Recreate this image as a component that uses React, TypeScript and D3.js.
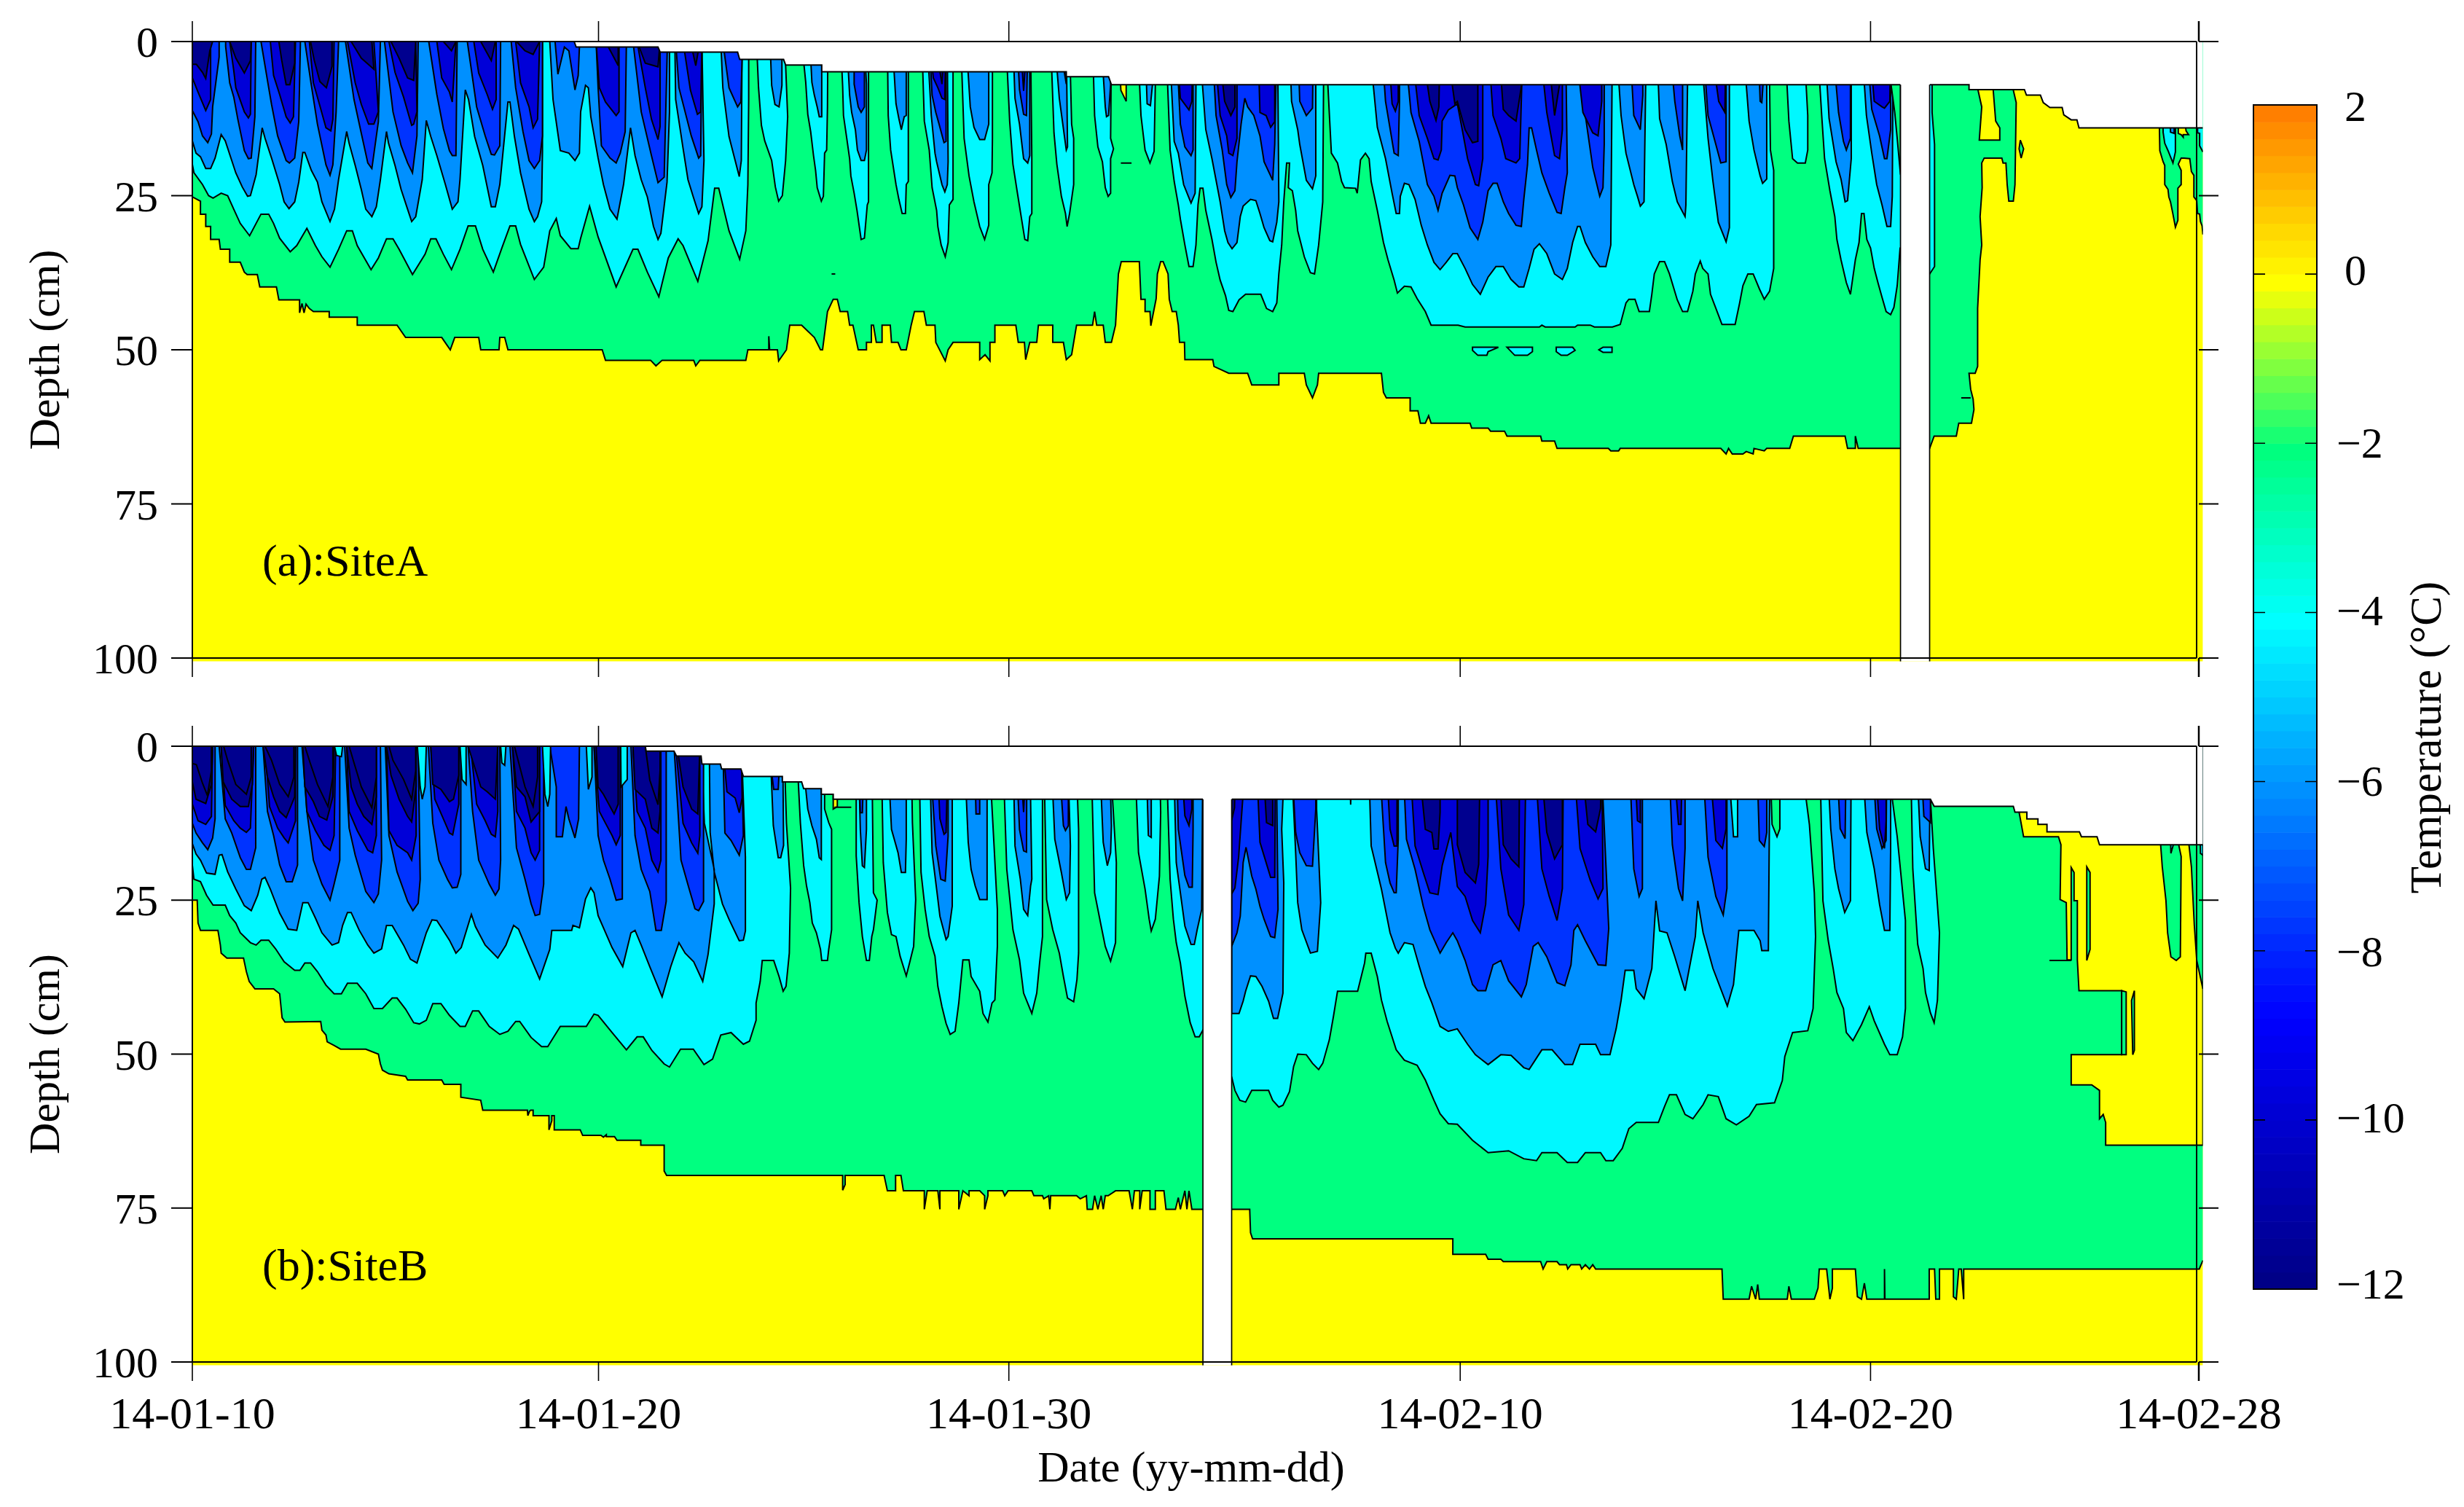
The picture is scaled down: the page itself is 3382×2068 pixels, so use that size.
import React from "react";
import * as d3 from "d3";

type Pt = number[];

// dates on the axis, as days after 14-01-10
const dateTicks = [0, 10, 20, 31, 41, 49];
const dateLabels = ["14-01-10", "14-01-20", "14-01-30", "14-02-10", "14-02-20", "14-02-28"];
const depthTicks = [0, 25, 50, 75, 100];
const tempTicks = [2, 0, -2, -4, -6, -8, -10, -12];
const tempLabels = ["2", "0", "\u22122", "\u22124", "\u22126", "\u22128", "\u221210", "\u221212"];

// colours of the filled bands, warm to cold
const bandColors = { g0: "#00ff80", g2: "#00f8ff", g4: "#0090ff", g6: "#0033ff", g8: "#0000d8", g10: "#00008f", warm: "#ffff00" };
const colorStops = [2, 0, -2, -4, -6, -8, -8.7, -12];
const colorValues = ["#ff7f00", "#ffff00", "#00ff7f", "#00ffff", "#0090ff", "#0020ff", "#0000ff", "#00007f"];

// site A: top of the record (day, cm)
const surfaceA: Pt[] = [[0,0],[9.4,0],[9.45,.9],[11.45,.9],[11.5,1.7],[13.39,1.7],[13.44,2.9],[14.51,2.9],[14.56,3.8],[15.44,3.8],[15.44,4.9],[21.4,4.9],[21.4,5.7],[22.43,5.7],[22.5,7],[43.4,7],[43.4,7.8],[44.75,7.8],[44.8,8.7],[45.14,8.7],[45.21,9.9],[45.37,10.7],[45.67,10.7],[45.71,11.9],[45.89,12.7],[46.03,12.7],[46.08,14],[49.1,14]];
const gapA = [41.73, 42.44];

// site A: depth of each isotherm (day, cm). 0 means the band is absent at that time
const iso0A: Pt[] = [[0,25.2],[.2,25.9],[.2,28],[.33,28],[.33,30],[.45,30],[.45,32.1],[.66,32.1],[.69,33.7],[.92,33.7],[.92,35.8],[1.18,35.8],[1.28,37.4],[1.35,37.8],[1.6,37.8],[1.66,39.8],[2.07,39.8],[2.13,41.9],[2.64,41.9],[2.64,44],[2.7,42.5],[2.75,44],[2.8,42.6],[2.88,43.3],[2.98,43.8],[3.37,43.8],[3.37,44.7],[4.06,44.7],[4.06,46],[5.04,46],[5.25,48],[6.14,48],[6.35,50],[6.46,48],[7.05,48],[7.1,50],[7.55,50],[7.57,48],[7.69,48],[7.77,50],[10.09,50],[10.17,51.7],[11.27,51.7],[11.4,52.6],[11.55,51.7],[12.32,51.7],[12.37,52.6],[12.47,51.7],[13.59,51.7],[13.64,50],[14.15,50],[14.15,47.8],[14.17,50],[14.36,50],[14.39,51.8],[14.58,50],[14.66,46],[14.95,46],[15.26,48],[15.41,50],[15.46,50],[15.58,43.8],[15.72,41.8],[15.82,41.8],[15.89,43.8],[16.07,43.8],[16.12,46],[16.2,46],[16.33,50],[16.53,50],[16.53,48.8],[16.65,48.8],[16.65,46],[16.7,46],[16.77,48.8],[16.91,48.8],[16.91,46],[17.11,46],[17.14,48.8],[17.3,48.8],[17.37,50],[17.5,50],[17.62,46],[17.7,43.8],[17.93,43.8],[17.99,46],[18.2,46],[18.22,48.8],[18.45,51.8],[18.52,50],[18.64,48.8],[19.29,48.8],[19.29,51.6],[19.42,50.8],[19.54,51.8],[19.54,48.8],[19.66,48.8],[19.66,46],[20.17,46],[20.23,48.8],[20.38,48.8],[20.41,51.6],[20.51,48.8],[20.68,48.8],[20.72,46],[21.07,46],[21.07,48.8],[21.33,48.8],[21.4,51.6],[21.53,50.8],[21.65,46],[22.04,46],[22.09,43.8],[22.14,46],[22.3,46],[22.35,48.8],[22.5,48.8],[22.6,46],[22.67,37.7],[22.74,35.7],[23.18,35.7],[23.22,41.8],[23.32,41.8],[23.32,43.8],[23.44,43.8],[23.46,46.1],[23.59,41.7],[23.62,37.7],[23.7,35.7],[23.76,35.7],[23.88,37.7],[23.91,41.8],[23.98,43.8],[24.08,43.8],[24.13,46],[24.16,48.8],[24.28,48.8],[24.29,51.6],[24.97,51.6],[25,52.7],[25.36,53.8],[25.82,53.8],[25.92,55.7],[26.58,55.7],[26.58,53.8],[27.2,53.8],[27.25,55.7],[27.4,57.8],[27.52,55.7],[27.55,53.8],[29.08,53.8],[29.13,56.9],[29.2,57.8],[29.78,57.8],[29.78,59.9],[29.97,59.9],[30.03,61.9],[30.15,61.9],[30.23,60.7],[30.29,61.9],[31.24,61.9],[31.28,62.7],[31.68,62.7],[31.74,63.2],[32.08,63.2],[32.14,64],[32.96,64],[32.99,64.8],[33.3,64.8],[33.36,66],[34.61,66],[34.67,66.4],[34.86,66.4],[34.9,66],[37.35,66],[37.48,66.9],[37.54,66],[37.63,66.9],[37.89,66.9],[37.97,66.5],[38.14,66.9],[38.16,66],[38.41,66.4],[38.47,66],[39.03,66],[39.12,64],[40.38,64],[40.44,66],[40.63,66],[40.63,64],[40.7,66],[42.44,66],[42.55,64],[43.09,64],[43.15,61.9],[43.46,61.9],[43.52,59.7],[43.5,58],[43.44,56.4],[43.4,53.8],[43.55,53.8],[43.61,52.7],[43.61,43.3],[43.67,35.4],[43.71,33],[43.67,28.4],[43.72,23.7],[43.71,19.7],[43.77,18.9],[44.2,18.9],[44.23,19.7],[44.3,19.7],[44.33,23.2],[44.37,25.9],[44.48,25.9],[44.52,23.2],[44.55,9.9],[44.48,7.9],[44.48,0],[48.04,0],[48.04,14],[48.05,17.7],[48.13,19.5],[48.17,20.1],[48.17,23.2],[48.25,24],[48.27,25.2],[48.31,26],[48.37,28],[48.43,30.1],[48.49,29],[48.49,23.8],[48.57,23.2],[48.57,20.9],[48.5,19.9],[48.57,18.9],[48.64,18.9],[48.78,19],[48.82,21.1],[48.88,21.7],[48.88,25.2],[48.95,25.8],[48.97,27.9],[49.02,28],[49.04,29.2],[49.08,29.9],[49.1,31.3]];
const iso2A: Pt[] = [[0,19.9],[.04,21.3],[.25,23.2],[.4,25],[.51,25.4],[.71,24.6],[.87,25],[1.02,27.2],[1.18,29.5],[1.41,31.5],[1.69,28],[1.88,28],[2,29.5],[2.15,31.9],[2.41,34.1],[2.57,33.1],[2.82,30.3],[3.03,33.1],[3.19,34.9],[3.39,36.6],[3.6,33.7],[3.8,30.7],[3.94,30.7],[4.06,33.1],[4.4,37],[4.58,35.1],[4.78,32],[4.94,32],[5.09,33.7],[5.42,37.8],[5.73,34.5],[5.87,32],[6,32],[6.18,34.5],[6.38,37],[6.59,33.7],[6.79,29.9],[6.97,29.9],[7.15,33.7],[7.41,37.4],[7.62,33.5],[7.82,29.9],[7.96,29.9],[8.08,32.9],[8.42,38.6],[8.65,36.6],[8.8,30.7],[8.96,28.7],[9.06,31.5],[9.32,33.6],[9.5,33.6],[9.56,31.9],[9.78,26.7],[9.99,31.7],[10.43,39.8],[10.84,33.7],[10.96,33.7],[11.19,37.4],[11.47,41.4],[11.7,35.1],[11.94,32],[12.06,33.1],[12.42,38.9],[12.67,32.3],[12.83,23.8],[12.93,23.8],[13.18,30.7],[13.44,35.3],[13.59,30.7],[13.64,23.2],[13.66,9.4],[13.66,0],[13.85,0],[13.9,7.5],[13.97,13.6],[14.05,16.1],[14.22,19.3],[14.31,23.6],[14.39,25.9],[14.48,25],[14.56,19.3],[14.61,12.2],[14.56,3.8],[14.56,0],[14.95,0],[15.05,6.6],[15.1,11.8],[15.17,14.6],[15.24,18.5],[15.29,20.9],[15.33,23.7],[15.43,25.9],[15.48,25.1],[15.51,18.1],[15.56,17.6],[15.58,10.6],[15.59,0],[15.9,0],[15.95,7.3],[15.97,12],[16.05,15.7],[16.12,19],[16.15,21.8],[16.23,24.6],[16.3,27.4],[16.4,32.1],[16.48,31.9],[16.55,26.5],[16.58,26],[16.58,0],[17.04,0],[17.06,12],[17.12,17.6],[17.25,23.2],[17.32,25.6],[17.4,27.9],[17.48,27.9],[17.5,23.2],[17.55,22.7],[17.55,0],[17.88,0],[17.94,12.9],[18.06,17.6],[18.13,23.7],[18.24,27.4],[18.27,30],[18.35,33],[18.45,34.9],[18.52,32.6],[18.55,26.5],[18.64,25.6],[18.64,0],[18.83,0],[18.91,15.7],[19.03,21.8],[19.15,26],[19.29,30],[19.41,32.1],[19.51,29.8],[19.51,23.2],[19.59,21.3],[19.6,15.7],[19.6,0],[19.93,0],[20.02,12.9],[20.1,19.9],[20.2,24.2],[20.31,28.8],[20.39,32.1],[20.46,32.3],[20.51,28.4],[20.56,27.9],[20.56,19],[20.53,0],[21.02,0],[21.1,14.8],[21.17,19.9],[21.28,25.1],[21.38,27.9],[21.42,30],[21.48,27.9],[21.58,23.2],[21.58,15.7],[21.53,13.4],[21.48,0],[22.04,0],[22.09,12],[22.17,17.1],[22.28,19.5],[22.35,23.7],[22.42,25.1],[22.48,24.6],[22.48,19],[22.55,17.4],[22.48,15.7],[22.5,0],[23.14,0],[23.22,12],[23.32,17.6],[23.44,19.7],[23.54,17.8],[23.57,7],[23.57,0],[23.83,0],[23.93,17.6],[24.03,22.7],[24.13,26.5],[24.18,28.8],[24.29,33],[24.39,36.5],[24.49,36.5],[24.56,33],[24.61,26.5],[24.66,23.8],[24.73,23.8],[24.8,27.4],[24.95,32.1],[25.05,35.8],[25.15,38.7],[25.28,41.2],[25.36,43.6],[25.46,43.8],[25.61,41.9],[25.77,41],[26.14,41],[26.28,43.3],[26.43,43.8],[26.53,42.4],[26.58,37.7],[26.65,33],[26.7,26],[26.77,19.7],[26.84,19.7],[26.81,23.7],[26.91,24.2],[26.99,27.4],[27.04,30.7],[27.2,34.9],[27.35,37.5],[27.45,37.7],[27.55,33],[27.65,26],[27.67,7],[27.67,0],[27.72,0],[27.86,18.1],[28.01,19.7],[28.11,22.7],[28.18,23.7],[28.45,23.8],[28.49,24.6],[28.57,19.2],[28.69,18.1],[28.78,19],[28.83,22.7],[28.98,27.4],[29.13,32.6],[29.24,35.4],[29.39,38.7],[29.47,40.8],[29.64,39.7],[29.8,39.8],[29.95,41.7],[30.15,43.8],[30.29,46],[30.95,46],[31.12,46.3],[32.93,46.3],[32.99,46],[33.07,46.3],[33.8,46.3],[33.86,46],[34.17,46],[34.27,46.3],[34.71,46.3],[34.9,45.9],[35.04,42.4],[35.11,41.8],[35.26,41.8],[35.36,43.8],[35.61,43.8],[35.67,41],[35.73,37.7],[35.86,35.7],[35.98,35.7],[36.1,37.7],[36.29,41.9],[36.42,43.8],[36.54,43.8],[36.67,40.5],[36.73,37.7],[36.85,35.6],[36.91,36.8],[37.04,37.7],[37.1,41],[37.29,44.3],[37.38,45.9],[37.7,45.9],[37.81,42.4],[37.89,39.6],[38.01,37.7],[38.14,37.7],[38.29,40.1],[38.41,41.8],[38.54,40.5],[38.64,36.8],[38.64,20.9],[38.56,17.6],[38.54,7],[38.54,0],[38.91,0],[39.01,12.9],[39.1,19],[39.22,19.7],[39.41,19.7],[39.47,17.6],[39.47,12],[39.43,7],[39.43,0],[39.7,0],[39.81,12],[39.88,19],[40.01,24.2],[40.13,28.4],[40.18,32.1],[40.28,35.4],[40.41,39.1],[40.51,41],[40.63,35.4],[40.72,32.6],[40.78,27.9],[40.84,27.9],[40.91,32.1],[41,33.5],[41.09,36.8],[41.18,39.1],[41.28,41.5],[41.38,43.8],[41.49,44.3],[41.57,43.1],[41.65,39.6],[41.72,33.5],[41.74,33.5],[42.44,37.7],[42.56,36.5],[42.56,16.7],[42.5,11.5],[42.5,0],[48.11,0],[48.13,14.7],[48.17,16.5],[48.25,17.7],[48.31,18.7],[48.37,19.7],[48.43,17.9],[48.43,0],[48.97,0],[48.97,14.8],[49.02,14.9],[49.02,16.9],[49.1,17.9]];
const iso4A: Pt[] = [[0,16.1],[.09,18.1],[.2,18.7],[.33,20.6],[.45,20.6],[.56,18.9],[.71,15.1],[.81,16.1],[.97,19.3],[1.07,21.3],[1.23,23.6],[1.36,25.1],[1.43,25],[1.57,21.6],[1.72,14],[1.79,15.7],[1.95,18.9],[2.15,23.2],[2.26,26],[2.38,27.1],[2.52,26],[2.62,22.8],[2.72,18],[2.77,18],[2.93,20.9],[3.08,22.8],[3.19,26],[3.39,29.2],[3.5,27.2],[3.6,22.4],[3.8,14.6],[3.86,16.5],[4.01,20.1],[4.16,24],[4.27,27.2],[4.42,28.4],[4.53,26.8],[4.63,22.4],[4.78,14.6],[4.83,16.5],[4.99,20.1],[5.14,24],[5.3,27.2],[5.4,29.2],[5.5,28.4],[5.66,22.4],[5.76,12.8],[5.87,15.4],[6.02,18.5],[6.23,23.2],[6.4,27.2],[6.54,26],[6.59,22.4],[6.72,7.85],[6.8,9.4],[6.95,15.4],[7.15,20.1],[7.36,26.8],[7.46,26.8],[7.57,23.2],[7.77,9.8],[7.82,9.8],[7.93,15.4],[8.08,21.3],[8.29,27.2],[8.42,29.2],[8.5,28.4],[8.6,26],[8.62,18],[8.62,0],[8.8,0],[8.88,9.4],[9.06,17.7],[9.27,18.1],[9.42,19.3],[9.53,18.1],[9.56,11.4],[9.68,7.1],[9.75,7.5],[9.81,12.2],[9.99,18.9],[10.12,23.2],[10.28,27.2],[10.45,28.8],[10.61,23.2],[10.78,14],[10.89,18.5],[11.04,22.4],[11.19,25.2],[11.34,30],[11.45,32.1],[11.52,31.1],[11.67,22.8],[11.73,11.4],[11.73,0],[11.86,0],[11.88,9.4],[12.06,17.3],[12.18,22.4],[12.31,25.2],[12.44,27.9],[12.52,26.8],[12.57,19.3],[12.52,0],[12.98,0],[13.03,7.5],[13.18,15.4],[13.33,19.3],[13.43,21.9],[13.48,19.3],[13.5,0],[14.18,0],[14.22,7.1],[14.3,10.2],[14.4,10.6],[14.47,7.1],[14.47,0],[15.15,0],[15.2,6.6],[15.26,8.7],[15.33,10.6],[15.38,12.2],[15.44,12.2],[15.44,0],[16.05,0],[16.12,8.7],[16.17,11.5],[16.26,14.3],[16.31,17.6],[16.4,19.3],[16.48,19.3],[16.53,17.6],[16.53,6.9],[16.48,0],[17.16,0],[17.25,10.1],[17.32,12.5],[17.38,14.3],[17.45,12.2],[17.5,12],[17.5,0],[18.01,0],[18.11,12],[18.2,18.1],[18.24,19.5],[18.37,23.2],[18.44,24.4],[18.5,23.2],[18.52,19.5],[18.5,0],[18.96,0],[19.06,10.6],[19.15,13.9],[19.29,15.9],[19.41,15.9],[19.51,13.4],[19.51,0],[20.1,0],[20.15,9.2],[20.26,13.4],[20.36,19],[20.46,19.7],[20.51,18.5],[20.51,0],[21.12,0],[21.23,9.2],[21.4,17.6],[21.43,17.1],[21.4,0],[22.25,0],[22.35,10.6],[22.38,12.2],[22.43,12],[22.48,7],[22.48,0],[23.32,0],[23.37,10.1],[23.45,10.4],[23.5,7],[23.5,0],[23.91,0],[24.03,16.2],[24.13,18.1],[24.26,23.2],[24.44,26.2],[24.54,24.6],[24.56,7],[24.56,0],[24.64,0],[24.8,14.3],[24.95,19],[25.15,26],[25.26,30.7],[25.34,32.6],[25.44,33.6],[25.56,32.6],[25.64,28.4],[25.71,26.7],[25.89,25.6],[26.02,25.8],[26.12,27.9],[26.22,30.2],[26.36,32.3],[26.43,32.5],[26.53,29.3],[26.58,26],[26.55,0],[26.84,0],[26.89,9.7],[27.04,14.3],[27.09,16.7],[27.25,22.5],[27.4,23.9],[27.48,21.8],[27.48,0],[28.78,0],[28.98,13.9],[29.18,19],[29.34,24.6],[29.44,27.9],[29.52,27.9],[29.54,25.1],[29.64,23],[29.75,23.2],[29.9,25.6],[30.05,29.8],[30.2,33],[30.36,35.8],[30.51,37],[30.66,35.8],[30.82,34.4],[30.93,34.4],[31.12,36.8],[31.3,39.4],[31.49,41],[31.68,38.2],[31.87,36.5],[32.05,36.5],[32.24,38.6],[32.43,39.8],[32.55,39.8],[32.68,36.8],[32.8,33.7],[32.93,32.8],[33.11,34.4],[33.3,37.7],[33.49,38.6],[33.61,36.8],[33.74,32.6],[33.86,30],[33.92,30],[34.05,32.6],[34.23,34.9],[34.4,36.5],[34.55,36.5],[34.67,33],[34.7,7],[34.7,0],[34.8,0],[34.92,12],[35.04,18.1],[35.23,23.2],[35.32,25.1],[35.39,26.7],[35.48,26],[35.52,7],[35.52,0],[35.79,0],[35.86,12.5],[36.02,16.7],[36.17,22.7],[36.29,26],[36.48,28.4],[36.5,26.5],[36.54,7],[36.54,0],[36.85,0],[37.04,15.7],[37.16,22.7],[37.29,29.3],[37.48,32.5],[37.56,30.2],[37.56,7],[37.56,0],[37.89,0],[38.04,12.9],[38.16,17.6],[38.31,21.8],[38.37,23],[38.47,22.3],[38.47,0],[39.88,0],[39.99,12.5],[40.16,19.5],[40.28,22.3],[40.38,26],[40.44,25.8],[40.53,19],[40.53,0],[40.78,0],[40.9,12],[41.03,18.1],[41.15,23.2],[41.28,26.5],[41.4,30],[41.49,30],[41.53,25.1],[41.55,0],[48.28,0],[48.31,14.7],[48.4,14.9],[48.4,0]];
const iso6A: Pt[] = [[0,11.2],[.14,13],[.25,15.3],[.38,16.4],[.47,15],[.5,10.6],[.66,2.5],[.66,0],[.82,0],[.82,.8],[.92,6.7],[1.02,9],[1.12,12.6],[1.28,17.7],[1.38,19],[1.45,18.9],[1.54,12.2],[1.56,0],[1.69,0],[1.87,7.1],[1.95,10.2],[2.1,15.3],[2.31,19.3],[2.39,19.7],[2.52,18.9],[2.62,13],[2.66,.4],[2.66,0],[2.77,0],[2.93,7.1],[3.08,13.4],[3.29,20],[3.39,21.7],[3.46,20],[3.54,11.4],[3.6,0],[3.77,0],[3.98,9.4],[4.16,14.9],[4.32,19.7],[4.42,20.6],[4.58,13],[4.63,0],[4.73,0],[4.94,11.4],[5.14,16.9],[5.3,19.7],[5.42,21.3],[5.53,15.3],[5.56,0],[5.82,0],[6.02,8.6],[6.18,14.1],[6.33,17.7],[6.4,18.5],[6.49,18.5],[6.52,0],[6.77,0],[7,10.6],[7.21,15.3],[7.36,18.3],[7.44,18.4],[7.57,16.9],[7.59,0],[7.85,0],[7.96,7.5],[8.14,14.6],[8.29,19.3],[8.42,20.6],[8.55,19.3],[8.62,15.3],[8.62,0],[8.93,0],[9,5.3],[9.16,.9],[9.27,1.5],[9.42,7.85],[9.5,5.5],[9.53,.9],[9.53,0],[9.94,0],[9.99,7.5],[10.07,16.9],[10.28,18.9],[10.43,19.7],[10.53,18.1],[10.65,14.6],[10.68,0],[10.84,0],[11.04,11.4],[11.29,18.5],[11.45,22.9],[11.6,22],[11.68,0],[11.88,0],[11.96,7.5],[12.26,15.3],[12.44,18.9],[12.49,18.5],[12.52,0],[13.03,0],[13.18,7.5],[13.39,10.6],[13.47,9.8],[13.51,0],[16.23,0],[16.23,6.9],[16.33,10.6],[16.4,11.5],[16.48,10.6],[16.48,0],[18.06,0],[18.13,8.7],[18.22,11.5],[18.3,13.4],[18.42,16.4],[18.47,16.2],[18.47,0],[20.2,0],[20.26,7.8],[20.36,11.8],[20.43,12],[20.46,0],[21.23,0],[21.4,6.9],[21.4,0],[24.08,0],[24.18,13.4],[24.29,17.1],[24.44,18.5],[24.49,17.6],[24.49,0],[24.95,0],[25.05,12],[25.2,17.6],[25.31,23.2],[25.41,25.3],[25.51,24.2],[25.56,19.5],[25.66,13.4],[25.75,9.2],[25.82,10.6],[25.97,12],[26.12,15.3],[26.22,19.5],[26.43,22.5],[26.48,16.7],[26.53,0],[27.04,0],[27.09,9.7],[27.25,12],[27.4,10.8],[27.42,0],[29.08,0],[29.18,9.7],[29.39,18.1],[29.49,18.5],[29.52,9.7],[29.52,0],[29.64,0],[29.8,11.5],[30,16.2],[30.2,23.2],[30.36,25.1],[30.46,27.4],[30.56,24.6],[30.75,21.7],[30.87,21.8],[30.93,23.7],[31.08,26.5],[31.24,30.2],[31.43,32.1],[31.55,29.3],[31.68,24.2],[31.8,23],[31.9,23],[32.05,26],[32.18,27.9],[32.36,29.8],[32.49,30],[32.55,25.6],[32.64,20],[32.68,14],[32.74,14],[32.86,17.6],[32.99,21.3],[33.17,24.6],[33.36,27.7],[33.46,27.9],[33.55,23.7],[33.61,21.3],[33.57,0],[33.8,0],[34.05,12],[34.23,20.4],[34.4,25.1],[34.48,23.7],[34.51,16.7],[34.51,0],[35.13,0],[35.23,12],[35.39,14.3],[35.45,8.7],[35.45,0],[36.1,0],[36.23,9.7],[36.35,15.3],[36.42,17.6],[36.42,0],[36.91,0],[37.04,12],[37.23,16.7],[37.35,19.7],[37.48,19.5],[37.48,0],[38.26,0],[38.31,9.7],[38.35,9.9],[38.45,0],[40.07,0],[40.22,11.5],[40.34,16.2],[40.41,17.6],[40.51,15.7],[40.51,0],[40.9,0],[41.03,11],[41.22,15.3],[41.34,19],[41.4,19],[41.49,14.3],[41.49,0]];
const iso8A: Pt[] = [[0,5.9],[.14,8.2],[.33,11.2],[.45,9.4],[.45,0],[.92,0],[1.02,4.7],[1.07,7.5],[1.28,11.4],[1.38,12.4],[1.43,11.8],[1.45,0],[1.92,0],[2,5.5],[2.15,8.6],[2.31,12.2],[2.41,13.2],[2.49,12.2],[2.54,0],[2.88,0],[2.98,6.7],[3.13,10.2],[3.29,14],[3.41,14.5],[3.46,12.6],[3.49,0],[3.82,0],[4.01,6.7],[4.16,10.2],[4.34,13.4],[4.47,13.4],[4.58,11.4],[4.47,0],[4.84,0],[4.99,5],[5.2,9],[5.4,13.6],[5.45,13.4],[5.53,11.4],[5.5,0],[6.02,0],[6.14,5.9],[6.33,8.2],[6.4,9.8],[6.49,0],[6.93,0],[7.05,5.1],[7.26,8.6],[7.39,11],[7.48,9.4],[7.48,0],[7.96,0],[8.08,6.7],[8.29,10.6],[8.39,14],[8.5,12.6],[8.55,0],[9.94,0],[10.02,7.5],[10.17,9.8],[10.43,12],[10.5,11.4],[10.5,0],[10.94,0],[11.14,7.5],[11.29,12.6],[11.45,15.9],[11.5,13.8],[11.5,0],[12.06,0],[12.24,7.9],[12.41,11.8],[12.49,11.4],[12.52,0],[18.06,0],[18.16,5.9],[18.27,7.5],[18.37,9.2],[18.44,9.4],[18.46,0],[20.28,0],[20.36,8],[20.44,0],[24.08,0],[24.18,9.2],[24.39,11.1],[24.46,9.7],[24.49,0],[25,0],[25.15,12],[25.31,15.3],[25.36,18.1],[25.46,18.5],[25.56,15.7],[25.56,0],[26.07,0],[26.12,11.5],[26.27,12],[26.38,13.9],[26.48,13],[26.48,0],[29.24,0],[29.34,10.1],[29.42,11.3],[29.49,9.7],[29.49,0],[29.8,0],[30,12],[30.2,15.7],[30.36,19],[30.46,19.2],[30.54,17.6],[30.56,12.9],[30.71,11.1],[30.93,10.1],[31.05,14.3],[31.18,19],[31.37,23.2],[31.45,23.4],[31.55,19],[31.55,0],[31.68,0],[31.8,12],[31.99,15.7],[32.11,19],[32.36,19.7],[32.45,19],[32.53,0],[32.93,0],[33.11,11.5],[33.3,18.5],[33.42,19],[33.49,14.3],[33.49,0],[33.8,0],[33.99,11.5],[34.23,14.8],[34.36,15.3],[34.45,9.7],[34.45,0],[37.1,0],[37.3,9.7],[37.45,11.5],[37.48,0],[40.97,0],[41.09,9.7],[41.28,10.6],[41.34,10.8],[41.47,9.7],[41.49,0]];
const iso10A: Pt[] = [[0,3.7],[.1,3.7],[.25,5],[.33,6],[.43,1.5],[.5,0],[.92,0],[1.07,2.7],[1.28,5.1],[1.43,3.1],[1.45,0],[2.13,0],[2.2,3],[2.31,7],[2.4,7],[2.52,3.5],[2.52,0],[2.91,0],[3,3],[3.14,6.5],[3.3,7.5],[3.44,4],[3.44,0],[3.91,0],[4.16,2.7],[4.47,4.5],[4.42,0],[4.89,0],[5.09,2.7],[5.3,5.9],[5.45,6.3],[5.5,0],[6.18,0],[6.38,1.5],[6.49,0],[7.1,0],[7.36,3.1],[7.46,0],[7.98,0],[8.19,1.5],[8.39,2.1],[8.55,0],[10.17,0],[10.48,3.9],[10.48,0],[10.94,0],[11.14,3.5],[11.45,4.1],[11.5,0],[12.24,0],[12.37,3.9],[12.47,0],[18.2,0],[18.37,6.9],[18.44,0],[25.1,0],[25.26,9.7],[25.41,12],[25.51,10.6],[25.51,0],[30.05,0],[30.26,9.7],[30.41,12.8],[30.48,10.6],[30.51,0],[30.66,0],[30.87,10.1],[30.93,9.7],[31.12,14.3],[31.3,16.4],[31.43,16.2],[31.43,0],[31.93,0],[32.05,11],[32.18,12],[32.36,12.9],[32.49,7.3],[32.49,0],[33.11,0],[33.3,12],[33.42,7],[33.42,0]];

// site A: closed pockets (band, day-cm outline) and short contour dashes
const pocketsA: [keyof typeof bandColors, Pt[]][] = [
  ["g2", [[31.3,49.6],[31.93,49.6],[31.68,50.3],[31.65,50.9],[31.43,50.9],[31.3,50.1]]],
  ["g2", [[32.14,49.6],[32.76,49.6],[32.76,50.3],[32.64,50.9],[32.33,50.9]]],
  ["g2", [[33.34,49.6],[33.74,49.6],[33.8,50.1],[33.61,50.9],[33.46,50.9],[33.34,50.3]]],
  ["g2", [[34.48,49.6],[34.7,49.6],[34.7,50.4],[34.48,50.4],[34.38,50]]],
  ["g0", [[41.5,0],[41.5,7],[41.59,11.5],[41.65,15.7],[41.73,21.6],[41.73,0]]],
  ["warm", [[43.62,0],[43.62,7.9],[43.71,10.6],[43.65,16],[44.15,16],[44.15,14],[44.05,12.9],[43.99,7.9],[43.99,0]]],
  ["g0", [[44.65,16],[44.73,17.4],[44.67,18.9],[44.62,17.4]]],
  ["warm", [[48.5,0],[48.5,14.9],[48.57,15.1],[48.62,15.5],[48.62,15.1],[48.75,15.1],[48.69,14.5],[48.68,14],[48.68,0]]],
  ["warm", [[22.67,0],[22.86,0],[22.86,9.7],[22.73,7.9]]],
];
const dashesA: Pt[][] = [[[22.73,19.7],[22.99,19.7]],[[15.68,37.7],[15.77,37.7]],[[43.21,57.8],[43.44,57.8]]];

// site B: top of the record
const surfaceB: Pt[] = [[0,0],[11.14,0],[11.16,.8],[11.84,.8],[11.9,1.6],[12.5,1.6],[12.52,2.9],[12.97,2.9],[13,3.7],[13.47,3.7],[13.53,4.9],[14.48,4.9],[14.48,5.8],[14.95,5.8],[15,6.9],[15.43,6.9],[15.43,7.8],[15.72,7.8],[15.72,8.6],[42.46,8.6],[42.55,9.75],[44.48,9.75],[44.52,10.7],[44.81,10.7],[44.81,11.8],[45.08,11.8],[45.08,12.7],[45.3,12.7],[45.3,13.9],[46.09,13.9],[46.14,14.7],[46.52,14.7],[46.58,16],[49.1,16]];
const gapB = [24.73, 25.43];

// site B: isotherm depths
const iso0B: Pt[] = [[0,25],[.12,25],[.14,28.7],[.2,29.9],[.63,29.9],[.69,32.3],[.71,33.6],[.85,34.4],[1.26,34.4],[1.33,36.6],[1.4,38.2],[1.54,39.4],[2,39.4],[2.15,40.2],[2.21,44.1],[2.28,44.8],[3.16,44.7],[3.19,46.1],[3.29,46.9],[3.32,48],[3.49,48.6],[3.65,49.2],[4.27,49.2],[4.58,50],[4.63,51.6],[4.68,52.6],[4.84,53.2],[5.25,53.6],[5.3,54.2],[6.14,54.2],[6.2,54.9],[6.61,54.9],[6.61,57],[7.1,57.5],[7.15,59.1],[8.25,59.1],[8.26,60],[8.3,59.3],[8.33,59.1],[8.39,59.1],[8.39,60],[8.78,60],[8.78,62.3],[8.85,60.8],[8.85,60],[8.91,60],[8.91,62.3],[9.55,62.3],[9.61,63.2],[10.06,63.2],[10.12,63.5],[10.19,63.1],[10.19,63.4],[10.39,63.4],[10.45,64],[11.03,64],[11.03,64.8],[11.6,64.8],[11.6,69],[11.66,69.7],[15.95,69.7],[15.95,72.1],[16.01,71.2],[16.01,69.7],[16.96,69.7],[17.04,72.2],[17.24,72.2],[17.24,69.7],[17.37,69.7],[17.43,72.2],[17.94,72.2],[17.94,75.2],[18.01,72.2],[18.27,72.2],[18.32,75.2],[18.32,72.2],[18.78,72.2],[18.78,75.2],[18.88,72.2],[19.03,73],[19.03,72.2],[19.29,72.2],[19.41,73],[19.41,75.2],[19.49,73],[19.49,72.2],[19.85,72.2],[19.9,73],[19.98,72.2],[20.56,72.2],[20.61,73],[20.82,73],[20.85,73.5],[20.97,73],[21,75.2],[21.02,73],[21.65,73],[21.74,73.5],[21.89,73],[21.91,75.2],[22.04,75.2],[22.09,73],[22.17,75.2],[22.25,73],[22.3,75.2],[22.35,73],[22.42,73],[22.6,72.2],[22.93,72.2],[23.01,75.2],[23.06,72.2],[23.19,72.2],[23.19,75.2],[23.25,72.2],[23.44,72.2],[23.44,75.2],[23.57,75.2],[23.57,72.2],[23.78,72.2],[23.83,75.2],[24.06,75.2],[24.13,73.3],[24.18,75.2],[24.29,72.2],[24.34,75.2],[24.39,72.2],[24.46,75.2],[25.87,75.2],[25.89,79],[25.94,80],[30.82,80],[30.82,82.5],[31.62,82.5],[31.68,83.3],[31.99,83.3],[32.05,83.7],[32.96,83.7],[33.02,84.9],[33.11,83.7],[33.36,83.7],[33.42,84.2],[33.59,84.2],[33.62,84.9],[33.7,84.2],[33.92,84.2],[33.96,84.9],[34.05,84.2],[34.15,84.9],[34.23,84.2],[34.3,84.9],[37.38,84.9],[37.41,89.8],[38.04,89.8],[38.1,87.7],[38.2,89.8],[38.25,87.4],[38.29,89.8],[38.97,89.8],[39.01,87.7],[39.07,89.8],[39.63,89.8],[39.72,88],[39.75,84.9],[39.93,84.9],[40.01,89.8],[40.07,88],[40.07,84.9],[40.63,84.9],[40.68,89.4],[40.78,89.8],[40.85,87.2],[40.91,89.8],[41.34,89.8],[41.34,84.9],[41.35,89.8],[42.43,89.8],[42.43,84.9],[42.56,84.9],[42.59,89.8],[42.68,89.8],[42.68,84.9],[43.02,84.9],[43.02,89.4],[43.09,89.8],[43.15,84.9],[43.21,84.9],[43.27,89.8],[43.27,84.9],[49.01,84.9],[49.1,83.5]];
const iso2B: Pt[] = [[0,19.3],[.04,21.6],[.2,22],[.35,24.2],[.51,25.8],[.81,25.8],[.92,27.5],[1.07,28.7],[1.18,30.3],[1.43,31.9],[1.57,32.3],[1.69,31.5],[1.88,31.5],[2.05,32.9],[2.26,35],[2.52,36.4],[2.65,36.4],[2.77,35.2],[2.91,35.2],[3.08,36.6],[3.29,38.8],[3.49,40.2],[3.67,40.2],[3.82,38.5],[4.06,38.5],[4.27,40.2],[4.47,42.6],[4.68,42.6],[4.92,40.9],[5.04,40.9],[5.25,42.7],[5.45,44.9],[5.59,45.1],[5.76,44.5],[5.92,41.8],[6.12,41.8],[6.33,43.7],[6.59,45.5],[6.72,45.5],[6.9,43],[7.05,43],[7.31,45.5],[7.57,46.8],[7.77,46.3],[7.96,44.7],[8.06,44.7],[8.34,47.3],[8.6,48.8],[8.75,48.8],[9.06,45.5],[9.7,45.5],[9.89,43.5],[9.99,43.7],[10.33,46.5],[10.68,49.3],[10.94,47.2],[11.09,47.2],[11.3,49.4],[11.6,51.6],[11.73,52.1],[12,49.2],[12.31,49.2],[12.57,51.7],[12.78,50.8],[12.98,46.9],[13.23,46.5],[13.53,48.4],[13.68,47.9],[13.84,44.5],[13.84,41.7],[13.94,38.2],[13.99,34.8],[14.27,34.8],[14.4,37.4],[14.5,39.8],[14.57,39],[14.65,33.6],[14.68,23],[14.58,12.5],[14.55,6],[14.55,0],[14.87,0],[14.87,6],[14.92,12.5],[15,19.4],[15.07,22.7],[15.15,25.4],[15.21,28.7],[15.31,30.3],[15.41,33],[15.44,34.8],[15.58,34.8],[15.61,33],[15.68,29.8],[15.68,13.5],[15.61,12.4],[15.51,10.2],[15.51,8],[15.51,0],[16.28,0],[16.28,17.8],[16.35,25.4],[16.43,30.9],[16.53,34.8],[16.6,34.8],[16.66,30.9],[16.7,29.8],[16.79,24.98],[16.7,23.8],[16.66,0],[16.89,0],[16.94,18.9],[17.04,27],[17.14,30.6],[17.25,30.9],[17.35,34.1],[17.5,37.3],[17.58,35.2],[17.68,32.5],[17.73,24.9],[17.65,12.4],[17.62,0],[17.81,0],[17.86,20.5],[17.96,26.5],[18.06,30.9],[18.2,34.1],[18.27,39],[18.37,42.3],[18.47,45],[18.57,46.8],[18.69,46.3],[18.78,41.7],[18.88,34.7],[19.03,34.7],[19.08,37.4],[19.29,39.8],[19.37,43.4],[19.49,44.8],[19.59,41.7],[19.66,41.2],[19.72,32.5],[19.72,26.5],[19.64,16.2],[19.51,0],[19.85,0],[19.95,20],[20.1,29.8],[20.26,34.7],[20.36,40.1],[20.56,43.4],[20.68,40.1],[20.75,35.2],[20.82,30.9],[20.82,0],[20.85,0],[20.92,24.9],[21.07,29.8],[21.23,33.6],[21.33,37.4],[21.43,40.9],[21.58,41.5],[21.66,37.9],[21.7,33.6],[21.7,13.5],[21.63,0],[22,0],[22.09,23.8],[22.25,29.2],[22.35,32.5],[22.48,34.9],[22.6,31.9],[22.62,18.9],[22.45,0],[23.06,0],[23.16,17.3],[23.32,23.2],[23.42,28.1],[23.47,30],[23.57,28.1],[23.67,21.1],[23.7,10.7],[23.67,0],[23.83,0],[23.93,21.6],[24.01,28.1],[24.08,31.9],[24.18,35.2],[24.29,40.6],[24.42,44.9],[24.54,47.2],[24.64,47.2],[24.73,46.1],[25.43,53.7],[25.51,55.9],[25.63,57.5],[25.77,57.8],[25.92,55.9],[26.33,55.9],[26.43,57.5],[26.58,58.6],[26.68,58.3],[26.84,56.1],[26.94,52],[27.04,50],[27.25,50.1],[27.4,51.5],[27.55,52.5],[27.65,51.5],[27.81,47.7],[27.91,43.9],[28.01,39.8],[28.5,39.8],[28.67,35.2],[28.7,33.6],[28.83,33.6],[28.98,37.4],[29.08,41.2],[29.22,44.7],[29.44,49.3],[29.64,51],[29.95,51.8],[30.15,54.2],[30.36,57.5],[30.51,59.7],[30.71,61.3],[30.93,61.4],[31.3,64],[31.68,66],[32.18,65.7],[32.55,67],[32.86,67.3],[32.99,66],[33.36,66],[33.61,67.6],[33.86,67.6],[34.05,66],[34.42,66],[34.55,67.3],[34.73,67.3],[34.95,65.3],[35.11,62.1],[35.29,61.1],[35.83,61.1],[35.98,58.5],[36.1,56.6],[36.27,56.6],[36.48,59.8],[36.67,60.5],[36.92,58.2],[37.04,56.6],[37.29,56.9],[37.48,60.5],[37.73,61.5],[38.04,60.1],[38.22,58.2],[38.66,57.9],[38.85,54.3],[38.91,50.4],[39.1,46.5],[39.47,46.2],[39.6,42.6],[39.66,30.9],[39.63,23.8],[39.51,12.7],[39.43,8.6],[39.43,0],[39.76,0],[39.84,25.1],[39.97,31.6],[40.09,36.1],[40.18,40],[40.34,42.6],[40.41,46.5],[40.57,47.8],[40.78,45.2],[40.97,42.3],[41.09,44.6],[41.34,48.4],[41.47,50.1],[41.65,50.1],[41.78,47.2],[41.85,42.6],[41.85,28.3],[41.65,14.7],[41.53,8.6],[41.53,0],[41.97,0],[42.03,19.9],[42.15,32.2],[42.28,36.1],[42.34,40],[42.46,43.3],[42.55,44.9],[42.63,41.3],[42.68,30.3],[42.53,16.6],[42.46,8.6],[42.46,0]];
const iso4B: Pt[] = [[0,15.8],[.09,17.5],[.2,18.5],[.35,20.6],[.56,20.8],[.66,17.7],[.73,17.6],[.87,20.4],[1.07,23.2],[1.28,25.9],[1.45,26.7],[1.61,24.2],[1.71,21.6],[1.79,21.3],[1.92,23.2],[2.15,27.1],[2.36,29.7],[2.57,29.9],[2.72,25.4],[2.85,25.4],[3.03,27.9],[3.19,30.3],[3.44,32.3],[3.6,31.9],[3.7,29.1],[3.82,27],[3.91,27],[4.11,29.9],[4.32,32.3],[4.47,33.6],[4.66,32.9],[4.78,29.1],[4.92,29.1],[5.2,32.3],[5.37,34.6],[5.53,35.2],[5.76,30.3],[5.9,28.2],[6.02,28.3],[6.33,31.5],[6.49,33.6],[6.62,32.7],[6.87,27.3],[6.97,29.3],[7.21,32.3],[7.52,34.4],[7.72,32.3],[7.91,29.1],[8.03,29.7],[8.29,33.8],[8.55,37.8],[8.8,33],[8.85,29.9],[9.34,29.9],[9.37,29.1],[9.53,29.5],[9.68,24.8],[9.81,23],[9.89,23.8],[9.99,27.5],[10.33,32.7],[10.59,35.8],[10.79,30.3],[10.89,29.9],[11.04,32.3],[11.25,35.8],[11.55,40.7],[11.76,35.8],[11.96,31.9],[12.11,33.6],[12.32,35],[12.54,38.2],[12.67,33.8],[12.82,25.6],[12.82,20],[12.58,12.5],[12.52,2.9],[12.52,0],[12.7,0],[12.72,14],[12.82,20.4],[13.02,25.6],[13.18,28.1],[13.43,31.6],[13.53,31.5],[13.58,30],[13.58,18],[13.51,4.9],[13.51,0],[14.18,0],[14.26,12.9],[14.38,18.1],[14.44,18.1],[14.51,16.1],[14.49,0],[15.05,0],[15.05,6.9],[15.1,10.2],[15.2,12.9],[15.31,15.1],[15.38,18.1],[15.43,18.4],[15.43,7.8],[15.43,0],[16.33,0],[16.38,13.5],[16.43,19.4],[16.48,19.7],[16.53,13.5],[16.53,0],[17.04,0],[17.14,13.5],[17.3,17.3],[17.38,20.5],[17.48,20.5],[17.5,15.1],[17.5,0],[18.06,0],[18.13,17.3],[18.24,23.2],[18.32,27.6],[18.47,31.4],[18.52,30.9],[18.62,26],[18.62,0],[18.91,0],[19.01,15.6],[19.08,20],[19.18,22.7],[19.29,24.9],[19.47,24.9],[19.47,0],[20.1,0],[20.15,16.2],[20.28,21.6],[20.36,26.5],[20.46,27.5],[20.53,22.7],[20.56,21.6],[20.51,0],[21.02,0],[21.12,15.1],[21.28,20.5],[21.4,24.9],[21.48,23.8],[21.5,16.2],[21.43,0],[22.2,0],[22.3,15.6],[22.4,19.4],[22.48,17.3],[22.5,12.9],[22.45,0],[23.34,0],[23.4,14.5],[23.47,14.8],[23.47,0],[24.01,0],[24.08,18.9],[24.18,23.8],[24.29,29.2],[24.44,32.2],[24.52,32.2],[24.59,29.8],[24.7,26.5],[24.73,0],[25.43,0],[25.43,43.4],[25.61,43.4],[25.71,41.4],[25.77,39.8],[25.89,37.3],[26.02,37.4],[26.17,39],[26.33,41.4],[26.45,44.2],[26.55,44.2],[26.68,40.1],[26.7,22.2],[26.65,13.5],[26.68,8.6],[26.68,0],[26.87,0],[26.99,17.3],[27.04,25.4],[27.14,29.8],[27.35,33.6],[27.52,33.3],[27.6,25.4],[27.5,10.2],[27.5,0],[28.3,0],[28.33,9.5],[28.37,0],[28.76,0],[28.83,16.2],[29.08,23.2],[29.29,30.3],[29.42,32.8],[29.49,33.6],[29.64,31.9],[29.85,32.2],[30,35.7],[30.15,39],[30.31,41.7],[30.51,45.5],[30.71,46.3],[30.93,45.9],[31.18,48.4],[31.37,50.1],[31.68,51.7],[31.99,50.1],[32.24,50.2],[32.55,52.2],[32.68,52.5],[32.99,49.3],[33.24,49.3],[33.55,51.7],[33.74,51.7],[33.92,48.4],[34.3,48.4],[34.42,50.1],[34.65,50.1],[34.8,45.9],[34.92,41.3],[35.02,36.4],[35.23,36.4],[35.29,39.4],[35.48,41],[35.67,36.1],[35.77,25.1],[35.86,30],[36.04,30.3],[36.23,34.2],[36.48,39.7],[36.73,30.9],[36.79,25.1],[36.92,30.3],[37.16,36.1],[37.51,42.2],[37.66,38.7],[37.79,29.9],[38.16,29.9],[38.31,31.6],[38.35,33.2],[38.51,33.2],[38.54,8.6],[38.54,0],[39.93,0],[40.03,13.4],[40.13,19.9],[40.22,23.1],[40.37,27],[40.51,25.1],[40.53,0],[40.78,0],[40.91,14],[41.09,19.9],[41.22,25.7],[41.34,29.9],[41.47,29.9],[41.49,16.6],[41.49,0],[42.11,0],[42.21,14.7],[42.34,19.9],[42.43,20.2],[42.46,0]];
const iso6B: Pt[] = [[0,12.5],[.09,14.1],[.25,15.7],[.38,16.8],[.5,14.9],[.56,11.8],[.56,0],[.66,0],[.81,11.8],[.97,14.1],[1.18,18.1],[1.33,20],[1.43,20],[1.56,16.5],[1.56,0],[1.74,0],[1.85,10.6],[2,14.5],[2.15,19.3],[2.31,22],[2.46,22],[2.59,19.3],[2.59,0],[2.7,0],[2.82,10.6],[2.98,18.5],[3.19,22.4],[3.39,25],[3.49,22.4],[3.63,18.5],[3.63,0],[3.75,0],[3.86,13.3],[4.01,17.7],[4.27,23.6],[4.47,25.4],[4.58,24],[4.66,18.5],[4.63,0],[4.75,0],[4.84,14.5],[5.04,20.4],[5.3,25.2],[5.43,26.7],[5.56,25.5],[5.61,21.6],[5.56,0],[5.81,0],[5.92,12.5],[6.07,18.5],[6.28,21.6],[6.4,23],[6.52,22.9],[6.61,20.8],[6.61,0],[6.79,0],[6.9,10.6],[7.05,18.5],[7.31,22.4],[7.46,24.2],[7.55,23.2],[7.59,18.5],[7.57,0],[7.82,0],[7.98,16.5],[8.19,21.6],[8.34,25.6],[8.44,27.5],[8.55,27.3],[8.65,22.4],[8.65,0],[8.8,0],[8.96,6.6],[8.96,14.7],[9.11,14.7],[9.2,9.8],[9.27,11.8],[9.42,14.9],[9.51,11.8],[9.53,0],[9.89,0],[9.99,14.5],[10.12,18.5],[10.28,21.6],[10.43,25],[10.58,24.8],[10.58,0],[10.79,0],[10.89,14.5],[11.04,20],[11.25,23.6],[11.4,29.9],[11.53,29.9],[11.65,25.2],[11.65,0],[11.84,0],[12.01,18.5],[12.21,23.2],[12.35,26.4],[12.44,26.7],[12.56,25.2],[12.56,0],[13.03,0],[13.08,14.1],[13.23,15.3],[13.43,17.7],[13.53,14.5],[13.48,0],[14.14,0],[14.27,7],[14.38,7],[14.43,0],[16.33,0],[16.38,10.8],[16.43,10.8],[16.48,0],[18.06,0],[18.22,16.2],[18.34,21.6],[18.45,21.9],[18.52,14.6],[18.52,0],[19.16,0],[19.2,11],[19.29,11],[19.29,0],[20.17,0],[20.26,13.5],[20.36,17],[20.43,17.2],[20.44,0],[21.2,0],[21.33,12.9],[21.38,13.7],[21.45,12.9],[21.45,0],[24.08,0],[24.13,13.5],[24.29,21],[24.39,22.9],[24.47,22.9],[24.49,13.5],[24.49,0],[25.43,0],[25.43,32.5],[25.56,30.3],[25.64,27.6],[25.71,18.9],[25.78,16.4],[25.92,21.1],[26.02,23.2],[26.12,26],[26.22,28.1],[26.38,30.9],[26.48,31.1],[26.56,26.5],[26.53,8.6],[26.53,0],[26.87,0],[26.99,14],[27.09,17.3],[27.25,19.4],[27.4,19.5],[27.48,10.2],[27.48,0],[29.01,0],[29.18,18.9],[29.29,22.2],[29.39,23.8],[29.44,23.8],[29.49,15.1],[29.49,0],[29.59,0],[29.69,15.1],[29.9,20],[30.1,26],[30.26,29.8],[30.51,33.6],[30.66,31.9],[30.82,30.3],[30.93,31.6],[31.12,34.8],[31.3,38.7],[31.43,39.7],[31.62,39.7],[31.8,35.5],[31.99,34.8],[32.18,38.1],[32.49,40.7],[32.61,38.7],[32.78,32.5],[32.9,31.9],[33.11,34.2],[33.36,38.4],[33.55,38.9],[33.7,35.5],[33.77,29.9],[33.86,29],[34.05,31.6],[34.36,35.5],[34.55,35.6],[34.62,29.6],[34.48,8.6],[34.48,0],[35.11,0],[35.23,19.9],[35.36,24.4],[35.44,23.1],[35.44,0],[36.07,0],[36.17,16],[36.32,23.1],[36.42,25.1],[36.48,16.6],[36.48,0],[36.89,0],[37.04,18],[37.23,24.4],[37.41,27.4],[37.5,23.1],[37.5,0],[38.22,0],[38.29,15.3],[38.41,16.3],[38.47,14],[38.47,0],[40.16,0],[40.26,13.4],[40.38,15],[40.41,0],[41.03,0],[41.15,13.4],[41.28,16.6],[41.38,15.3],[41.4,0],[42.21,0],[42.3,11.4],[42.46,12.4],[42.46,0]];
const iso8B: Pt[] = [[0,9.4],[.14,12.1],[.33,12.7],[.47,11.4],[.5,0],[.71,0],[.81,9.6],[1.02,12.1],[1.18,13.3],[1.33,14],[1.43,13.3],[1.51,0],[1.79,0],[1.9,9.8],[2.1,13.3],[2.26,14.9],[2.36,15.7],[2.54,12.1],[2.54,0],[2.72,0],[2.82,10.6],[3.03,13.7],[3.24,16.1],[3.39,16.9],[3.49,14.5],[3.53,0],[3.8,0],[3.86,10.6],[4.06,13.7],[4.32,16.9],[4.44,17.3],[4.53,14.5],[4.53,0],[4.78,0],[4.84,13.7],[5.04,16.1],[5.3,17.3],[5.4,18.5],[5.51,14.5],[5.51,0],[5.87,0],[5.97,8.6],[6.18,11.8],[6.33,14.1],[6.41,14.4],[6.56,9.4],[6.56,0],[6.85,0],[7,9.4],[7.21,12.1],[7.36,14.3],[7.46,14.7],[7.52,10.6],[7.52,0],[7.88,0],[7.98,10.6],[8.19,13.3],[8.34,17.3],[8.44,18.5],[8.55,16.9],[8.55,0],[9.89,0],[10.02,10.6],[10.17,12.5],[10.33,14.5],[10.43,16],[10.53,14.5],[10.53,0],[10.84,0],[10.94,10.6],[11.14,13.3],[11.3,18.5],[11.45,20.4],[11.52,18.5],[11.52,0],[11.88,0],[12.06,12.5],[12.27,15.7],[12.42,17.4],[12.47,14.5],[12.47,0],[13.03,0],[13.13,7.4],[13.33,8.4],[13.43,10.8],[13.5,8.4],[13.48,0],[18.24,0],[18.32,11.8],[18.42,14.3],[18.47,14],[18.52,0],[20.26,0],[20.36,10.7],[20.43,0],[24.18,0],[24.29,11.3],[24.39,12.9],[24.46,10.2],[24.46,0],[25.43,0],[25.43,24],[25.51,23],[25.6,18],[25.7,8.6],[25.7,0],[26.02,0],[26.12,15.6],[26.22,17.8],[26.38,21.3],[26.48,21.3],[26.5,0],[29.18,0],[29.29,13.5],[29.39,16.2],[29.46,16.2],[29.46,0],[29.75,0],[29.9,16.2],[30.1,20.5],[30.26,23.8],[30.46,24.1],[30.56,19.4],[30.77,14],[30.93,22.8],[31.12,24.4],[31.3,28.3],[31.49,30.3],[31.62,25.7],[31.68,17.9],[31.68,0],[31.8,0],[31.99,19.9],[32.18,27.4],[32.43,29.9],[32.55,25.7],[32.61,0],[32.8,0],[32.99,19.9],[33.17,24.4],[33.36,28.3],[33.49,23.1],[33.52,0],[33.74,0],[33.92,16.6],[34.17,21.8],[34.36,24.8],[34.48,23.1],[34.45,0],[35.23,0],[35.32,12.1],[35.39,12.4],[35.39,0],[36.17,0],[36.32,12.7],[36.38,12.7],[36.42,0],[37.04,0],[37.23,15.3],[37.39,16.6],[37.48,13.4],[37.48,0],[41.09,0],[41.22,13.4],[41.34,16.6],[41.38,12.1],[41.38,0]];
const iso10B: Pt[] = [[0,5.8],[.09,8.6],[.33,9.3],[.47,6.2],[.5,0],[.71,0],[.76,5.8],[.97,8.6],[1.18,9.8],[1.38,9.8],[1.48,6.2],[1.51,0],[1.74,0],[1.85,5],[2,8.2],[2.15,10.6],[2.31,11.6],[2.52,8.2],[2.54,0],[2.72,0],[2.77,6.6],[2.98,9],[3.13,11.4],[3.31,12],[3.46,8.2],[3.49,0],[3.8,0],[3.91,6.6],[4.06,9.4],[4.22,11.4],[4.42,12.7],[4.53,8.2],[4.53,0],[4.78,0],[4.89,4.7],[5.09,8.6],[5.3,11.4],[5.4,12.3],[5.51,6.6],[5.51,0],[5.87,0],[5.92,6.2],[6.12,7],[6.33,9],[6.43,8.6],[6.56,4.7],[6.56,0],[6.79,0],[7.1,6.6],[7.26,7.4],[7.46,8.6],[7.52,0],[7.88,0],[7.98,6.6],[8.19,8.2],[8.34,12.3],[8.55,10.6],[8.55,0],[9.94,0],[9.99,6.6],[10.12,7.8],[10.38,11],[10.48,9.4],[10.48,0],[10.84,0],[10.89,7],[11.14,8.6],[11.3,13.3],[11.45,14.1],[11.5,10.6],[11.5,0],[11.91,0],[12.06,6.6],[12.27,10.2],[12.42,11],[12.47,0],[25.43,0],[25.43,12],[25.5,10],[25.53,0],[26.17,0],[26.28,12.4],[26.43,12.9],[26.43,0],[29.95,0],[30.15,13.5],[30.31,14],[30.36,16.7],[30.46,16.7],[30.51,10.7],[30.51,0],[30.93,0],[30.93,16],[31.12,20.5],[31.37,22.2],[31.45,19.2],[31.49,0],[31.93,0],[32.05,16],[32.24,18.3],[32.43,19.6],[32.45,0],[32.93,0],[33.11,14],[33.3,18.3],[33.49,16],[33.49,0],[33.92,0],[34.11,12.7],[34.3,13.9],[34.42,10.1],[34.45,0]];
// inner contour seen inside the coldest band at site B
const iso12B: Pt[] = [[0,2.8],[.1,3],[.25,6],[.37,8],[.47,4],[.47,0],[.77,0],[.87,2.3],[1.07,6.2],[1.33,7.8],[1.45,5],[1.45,0],[1.79,0],[1.95,2.3],[2.15,6.2],[2.36,8.2],[2.5,5],[2.5,0],[2.77,0],[2.9,2.7],[3.08,6.2],[3.34,9.8],[3.46,5],[3.46,0],[3.86,0],[3.98,2.7],[4.16,6.6],[4.42,10],[4.53,5],[4.53,0],[4.84,0],[4.94,2.3],[5.2,5.4],[5.4,8.6],[5.5,4],[5.5,0],[7.93,0],[8.19,6.6],[8.39,9.8],[8.5,5],[8.5,0],[11.14,0],[11.25,5.5],[11.45,9.5],[11.5,4],[11.5,0]];

const pocketsB: [keyof typeof bandColors, Pt[]][] = [
  ["warm", [[44.62,0],[44.62,10.7],[44.73,14.7],[45.58,14.7],[45.64,16],[45.62,24.9],[45.77,25.4],[45.79,34.7],[45.89,34.7],[45.89,19.7],[45.96,20.5],[45.96,25.1],[46.04,25.1],[46.04,34.7],[46.08,39.7],[46.17,39.7],[47.12,39.7],[47.12,50.1],[45.89,50.1],[45.89,55],[46.39,55],[46.58,55.9],[46.58,60.5],[46.67,59.8],[46.73,61.1],[46.73,64.8],[49.1,64.8],[49.1,0]]],
  ["g0", [[47.12,39.7],[47.23,39.9],[47.23,50.1],[47.12,50.1]]],
  ["g0", [[47.36,41.3],[47.43,39.7],[47.43,49.4],[47.39,50.1]]],
  ["g0", [[46.27,19.6],[46.35,20.5],[46.35,33],[46.27,34.8]]],
  ["g0", [[48.07,0],[48.07,16],[48.11,19.6],[48.2,25.1],[48.24,30.3],[48.32,34.2],[48.45,34.8],[48.55,34.2],[48.57,17.9],[48.51,16],[48.51,0]]],
  ["g0", [[48.76,0],[48.76,16],[48.82,19.6],[48.89,29],[48.95,34.8],[49.1,39.4],[49.1,0]]],
  ["g2", [[48.26,0],[48.32,17.4],[48.38,16],[48.38,0]]],
  ["g2", [[49.01,0],[49.04,17.4],[49.1,17.7],[49.1,0]]],
  ["g0", [[38.54,0],[38.6,12.7],[38.72,14.7],[38.79,13.4],[38.79,0]]],
  ["g2", [[3.5,0],[3.55,1.5],[3.67,1.7],[3.7,0]]],
  ["g2", [[5.54,0],[5.61,6.6],[5.66,8.6],[5.73,6.6],[5.76,0]]],
  ["g2", [[6.59,0],[6.64,5.4],[6.74,6.2],[6.74,0]]],
  ["g2", [[7.59,0],[7.62,2.7],[7.69,3.1],[7.72,0]]],
  ["g2", [[8.62,0],[8.68,7.8],[8.75,9.8],[8.8,7.8],[8.82,0]]],
  ["g2", [[9.7,0],[9.75,7],[9.84,5],[9.84,0]]],
  ["g2", [[10.54,0],[10.55,6.6],[10.7,5.4],[10.7,0]]],
  ["g2", [[37.5,0],[37.64,12.7],[37.66,14.7],[37.76,14.7],[37.76,0]]],
  ["warm", [[15.72,0],[15.82,0],[15.82,9.8],[15.72,10.2]]],
];
const dashesB: Pt[][] = [[[15.75,9.9],[16.16,9.9]],[[45.36,34.8],[45.89,34.8]]];

const LAST_DAY = 49.1;
const x = d3.scaleLinear().domain([0, 10, 49]).range([264, 821.5, 3018]);

const FONT = "'Liberation Serif', 'Times New Roman', serif";

const Panel = ({ top, bottom, levels, surface, gap, pockets, dashes, name, id }: any) => {
  const y = d3.scaleLinear().domain([0, 100]).range([top, bottom]);
  const area = d3.area<Pt>().x((d) => x(d[0])).y0(y(0)).y1((d) => y(d[1]));
  const line = d3.line<Pt>().x((d) => x(d[0])).y((d) => y(d[1]));
  const surfaceMask = d3.area<Pt>().x((d) => x(d[0])).y0(y(0)).y1((d) => y(d[1]));
  const closed = d3.line<Pt>().x((d) => x(d[0])).y((d) => y(d[1])).curve(d3.curveLinearClosed);
  const leftPart = surface.filter((d: Pt) => d[0] <= gap[0]);
  const rightPart = surface.filter((d: Pt) => d[0] >= gap[1]);
  const surfaceAt = d3.scaleLinear().domain(surface.map((d: Pt) => d[0])).range(surface.map((d: Pt) => d[1]));
  const fullTop = line([...leftPart, [gap[0], surfaceAt(gap[0])]]);
  const fullRest = line([[gap[1], surfaceAt(gap[1])], ...rightPart]);

  return (
    <g>
      <clipPath id={id}>
        <rect x={x(0)} y={y(0)} width={x(LAST_DAY) - x(0)} height={y(100.55) - y(0)} />
      </clipPath>
      <g clipPath={`url(#${id})`}>
        <rect x={x(0)} y={y(0)} width={x(LAST_DAY) - x(0)} height={y(100.55) - y(0)} fill={bandColors.warm} />
        {levels.map(([band, pts]: [keyof typeof bandColors, Pt[]], i: number) => (
          <g key={i}>
            <path d={area(pts) as string} fill={bandColors[band]} />
            <path d={line(pts) as string} fill="none" stroke="#000" strokeWidth={2} />
          </g>
        ))}
        {pockets.map(([band, pts]: [keyof typeof bandColors, Pt[]], i: number) => (
          <path key={i} d={closed(pts) as string} fill={bandColors[band]} stroke="#000" strokeWidth={2} />
        ))}
        {dashes.map((pts: Pt[], i: number) => (
          <path key={i} d={line(pts) as string} fill="none" stroke="#000" strokeWidth={2} />
        ))}
        <path d={surfaceMask(surface) as string} fill="#fff" />
        <path d={fullTop as string} fill="none" stroke="#000" strokeWidth={2} />
        <path d={fullRest as string} fill="none" stroke="#000" strokeWidth={2} />
        <rect x={x(gap[0])} y={y(0)} width={x(gap[1]) - x(gap[0])} height={y(100.55) - y(0)} fill="#fff" />
        <path d={`M${x(gap[0])},${y(surfaceAt(gap[0]))}V${y(100.55)}M${x(gap[1])},${y(surfaceAt(gap[1]))}V${y(100.55)}`} stroke="#000" strokeWidth={1.7} fill="none" />
      </g>
      {/* frame and ticks */}
      <path d={`M264,${y(0)}H3015M264,${y(100)}H3015M264,${y(0)}V${y(100)}M3015,${y(0)}V${y(100)}`} fill="none" stroke="#000" strokeWidth={2} />
      {dateTicks.map((d) => (
        <path key={d} d={`M${x(d)},${y(0) - 28}V${y(0)}M${x(d)},${y(100)}V${y(100) + 26}`} stroke="#000" strokeWidth={d === 49 ? 2.5 : 1.6} fill="none" />
      ))}
      {depthTicks.map((d) => (
        <g key={d}>
          <path d={`M235,${y(d)}H264M3018,${y(d)}H3045`} stroke="#000" strokeWidth={2} fill="none" />
          <text x={217} y={y(d) + 21} textAnchor="end" fontSize={60} fontFamily={FONT}>{d}</text>
        </g>
      ))}
      <text transform={`translate(81,${(y(0) + y(100)) / 2}) rotate(-90)`} textAnchor="middle" fontSize={60} fontFamily={FONT}>Depth (cm)</text>
      <text x={360} y={y(0) + 733} fontSize={62} fontFamily={FONT}>{name}</text>
    </g>
  );
};

const ColorBar = () => {
  const t = d3.scaleLinear().domain([2, -12]).range([144, 1769]);
  const color = d3.scaleLinear<string>().domain(colorStops).range(colorValues);
  const cells = d3.range(-12, 2, 0.2);
  const nudges = [22, 15, 20, 18, 19, 21, 17, 13];
  return (
    <g>
      {cells.map((c) => (
        <rect key={c} x={3093} y={t(c + 0.2)} width={87} height={t(c) - t(c + 0.2) + 0.6} fill={color(c + 0.2)} />
      ))}
      <rect x={3093} y={144} width={87} height={1625} fill="none" stroke="#000" strokeWidth={2} />
      {tempTicks.map((v, i) => (
        <g key={v}>
          {v > -12 && v < 2 && <path d={`M3093,${t(v)}h16M3180,${t(v)}h-16`} stroke="#000" strokeWidth={1.6} fill="none" />}
          <text x={v < 0 ? 3207 : 3218} y={t(v) + nudges[i]} fontSize={60} fontFamily={FONT}>{tempLabels[i]}</text>
        </g>
      ))}
      <text transform="translate(3350,1012) rotate(-90)" textAnchor="middle" fontSize={61} fontFamily={FONT}>Temperature (°C)</text>
    </g>
  );
};

export default function App() {
  const levelsA = [["g0", iso0A], ["g2", iso2A], ["g4", iso4A], ["g6", iso6A], ["g8", iso8A], ["g10", iso10A]];
  const levelsB = [["g0", iso0B], ["g2", iso2B], ["g4", iso4B], ["g6", iso6B], ["g8", iso8B], ["g10", iso10B], ["g10", iso12B]];
  return (
    <svg width={3382} height={2068} style={{ position: "absolute", left: 0, top: 0, background: "#fff" }}>
      <Panel id="clipA" top={57} bottom={903} levels={levelsA} surface={surfaceA} gap={gapA} pockets={pocketsA} dashes={dashesA} name="(a):SiteA" />
      <Panel id="clipB" top={1024} bottom={1869} levels={levelsB} surface={surfaceB} gap={gapB} pockets={pocketsB} dashes={dashesB} name="(b):SiteB" />
      {dateTicks.map((d, i) => (
        <text key={d} x={x(d)} y={1960} textAnchor="middle" fontSize={62} fontFamily={FONT}>{dateLabels[i]}</text>
      ))}
      <text x={1635} y={2033} textAnchor="middle" fontSize={60} fontFamily={FONT}>Date (yy-mm-dd)</text>
      <ColorBar />
    </svg>
  );
}
